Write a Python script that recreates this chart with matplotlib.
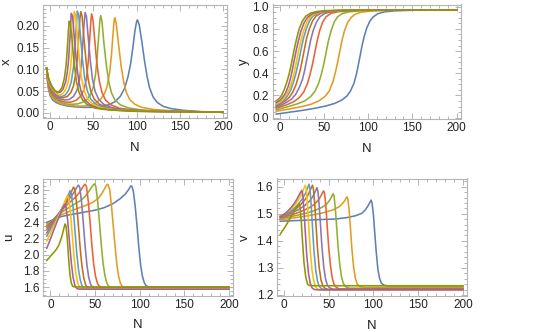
import matplotlib
matplotlib.use("Agg")
import matplotlib.pyplot as plt
from matplotlib.ticker import MultipleLocator, FormatStrFormatter

plt.rcParams['font.family'] = ['Liberation Sans', 'DejaVu Sans']

series_names = ["s1", "s2", "s3", "s4", "s5", "s6", "s7", "s8", "s9", "s10"]
colors = ['#5E81B5', '#E19C24', '#8FB032', '#EB6235', '#8778B3',
          '#C56E1A', '#5D9EC7', '#FFBF00', '#A5609D', '#929600']

x_ticks = [0, 50, 100, 150, 200]

# panel x : (N, x) points per series
x_curves = [
    [(-4,0.103),(-3,0.075),(-2,0.057),(0,0.040),(3,0.030),(7,0.024),(12,0.020),(20,0.016),(30,0.014),(40,0.013),(50,0.013),(60,0.015),(68,0.019),(75,0.026),(81,0.038),(86,0.056),(90,0.083),(93,0.112),(96,0.155),(98,0.188),(100,0.210),(101,0.214),(103,0.203),(106,0.165),(109,0.122),(112,0.085),(115,0.058),(119,0.037),(124,0.024),(131,0.015),(140,0.010),(155,0.006),(175,0.003),(200,0.002)],
    [(-4,0.103),(-3,0.077),(-2,0.060),(0,0.044),(3,0.034),(7,0.027),(12,0.022),(20,0.018),(30,0.016),(38,0.016),(46,0.018),(53,0.023),(59,0.033),(63,0.045),(66,0.062),(69,0.095),(71,0.135),(72.5,0.175),(74,0.213),(75,0.219),(76.5,0.205),(79,0.160),(82,0.110),(85,0.072),(88,0.048),(92,0.031),(98,0.020),(106,0.013),(120,0.008),(140,0.005),(170,0.003),(200,0.002)],
    [(-4,0.103),(-3,0.079),(-2,0.063),(0,0.048),(3,0.038),(7,0.030),(12,0.025),(18,0.021),(25,0.020),(32,0.021),(38,0.025),(43,0.032),(47,0.043),(50,0.060),(52.5,0.088),(54.5,0.130),(56,0.172),(57.5,0.212),(58.5,0.224),(60,0.210),(62,0.165),(65,0.110),(68,0.070),(71,0.046),(75,0.030),(81,0.019),(90,0.012),(105,0.007),(130,0.004),(165,0.003),(200,0.002)],
    [(-4,0.103),(-3,0.081),(-2,0.066),(0,0.052),(3,0.042),(7,0.034),(12,0.028),(18,0.025),(24,0.025),(30,0.029),(35,0.038),(39,0.053),(42,0.078),(44,0.115),(45.5,0.160),(47,0.208),(48,0.228),(49.5,0.215),(51.5,0.170),(54,0.115),(57,0.072),(60,0.047),(64,0.030),(70,0.019),(80,0.011),(95,0.007),(120,0.004),(160,0.003),(200,0.002)],
    [(-4,0.103),(-3,0.083),(-2,0.069),(0,0.056),(3,0.046),(7,0.037),(12,0.032),(17,0.030),(22,0.031),(27,0.038),(31,0.052),(34,0.077),(36,0.110),(37.5,0.150),(39,0.198),(40.5,0.231),(42,0.222),(44,0.175),(46.5,0.120),(49,0.078),(52,0.050),(56,0.032),(62,0.020),(72,0.012),(90,0.007),(120,0.004),(160,0.003),(200,0.002)],
    [(-4,0.103),(-3,0.085),(-2,0.072),(0,0.059),(3,0.049),(7,0.041),(11,0.036),(15,0.035),(20,0.038),(24,0.047),(27,0.062),(29.5,0.088),(31.5,0.125),(33,0.170),(34.5,0.218),(35.5,0.233),(37,0.222),(39,0.175),(41.5,0.120),(44,0.078),(47,0.050),(51,0.032),(57,0.020),(67,0.012),(85,0.007),(115,0.004),(160,0.003),(200,0.002)],
    [(-4,0.103),(-3,0.087),(-2,0.074),(0,0.062),(3,0.052),(6,0.045),(10,0.039),(14,0.038),(18,0.042),(21.5,0.053),(24.5,0.072),(27,0.105),(28.5,0.140),(30,0.190),(31.5,0.234),(33,0.225),(35,0.180),(37.5,0.122),(40,0.080),(43,0.051),(47,0.032),(53,0.020),(63,0.012),(80,0.007),(110,0.004),(160,0.003),(200,0.002)],
    [(-4,0.103),(-3,0.089),(-2,0.077),(0,0.065),(3,0.055),(6,0.048),(9,0.043),(12,0.042),(15,0.045),(18,0.054),(21,0.072),(23.5,0.100),(25,0.135),(26.5,0.185),(28,0.233),(29.5,0.225),(31.5,0.180),(34,0.120),(36.5,0.078),(39.5,0.050),(43.5,0.032),(49,0.020),(59,0.012),(75,0.007),(105,0.004),(150,0.003),(200,0.002)],
    [(-4,0.103),(-3,0.091),(-2,0.080),(0,0.068),(3,0.058),(6,0.051),(9,0.047),(12,0.048),(15,0.055),(18,0.072),(20,0.095),(21.5,0.125),(23,0.175),(24.5,0.229),(26,0.222),(28,0.175),(30.5,0.115),(33,0.075),(36,0.048),(40,0.031),(46,0.019),(56,0.011),(72,0.007),(100,0.004),(150,0.003),(200,0.002)],
    [(-4,0.103),(-3,0.093),(-2,0.083),(0,0.071),(2,0.062),(5,0.052),(8,0.048),(11,0.050),(14,0.060),(16.5,0.080),(18.5,0.110),(20,0.150),(21,0.185),(22,0.211),(23.5,0.205),(25.5,0.165),(28,0.110),(30.5,0.072),(33.5,0.047),(37.5,0.030),(43,0.019),(52,0.011),(68,0.007),(95,0.004),(140,0.003),(200,0.002)],
]

# panel y
y_curves = [
    [(-4,0.032),(10,0.048),(25,0.065),(40,0.085),(52,0.105),(62,0.128),(70,0.158),(76,0.195),(80,0.240),(84,0.310),(87,0.400),(89,0.480),(91,0.560),(93,0.645),(95.5,0.730),(98.5,0.810),(102,0.870),(106,0.910),(111,0.937),(118,0.953),(130,0.963),(150,0.968),(200,0.970)],
    [(-4,0.058),(5,0.070),(15,0.085),(25,0.100),(35,0.120),(44,0.150),(51,0.190),(56,0.240),(60,0.320),(63,0.410),(65.5,0.500),(68,0.600),(70.5,0.700),(73.5,0.790),(77,0.860),(81,0.905),(86,0.935),(93,0.952),(105,0.962),(125,0.968),(200,0.970)],
    [(-4,0.072),(3,0.085),(12,0.105),(20,0.125),(28,0.150),(35,0.190),(40,0.240),(44,0.310),(47,0.390),(50,0.490),(52.5,0.590),(55,0.690),(58,0.780),(61.5,0.860),(65.5,0.910),(71,0.940),(79,0.955),(92,0.964),(115,0.968),(200,0.970)],
    [(-4,0.085),(2,0.100),(9,0.120),(16,0.145),(22,0.180),(27,0.230),(31,0.300),(34,0.380),(37,0.480),(39.5,0.580),(42,0.680),(45,0.780),(48.5,0.860),(52.5,0.910),(58,0.940),(66,0.955),(80,0.965),(105,0.969),(200,0.970)],
    [(-4,0.097),(1,0.110),(7,0.135),(13,0.165),(18,0.210),(22,0.270),(25.5,0.340),(28,0.420),(30,0.500),(32.5,0.600),(35,0.700),(38,0.790),(41.5,0.860),(45.5,0.910),(51,0.940),(59,0.955),(72,0.965),(100,0.969),(200,0.970)],
    [(-4,0.107),(1,0.125),(6,0.150),(11,0.185),(15,0.235),(18.5,0.300),(21.5,0.380),(23.5,0.440),(25.5,0.520),(28,0.620),(30.5,0.720),(33.5,0.800),(37,0.870),(41,0.915),(46.5,0.942),(54,0.956),(67,0.965),(95,0.969),(200,0.970)],
    [(-4,0.117),(0,0.130),(5,0.160),(9,0.200),(12.5,0.250),(15.5,0.320),(18,0.390),(20,0.460),(22,0.530),(24.5,0.630),(27,0.720),(30,0.800),(33.5,0.870),(37.5,0.915),(43,0.942),(50,0.956),(63,0.965),(90,0.969),(200,0.970)],
    [(-4,0.125),(0,0.140),(4,0.170),(8,0.210),(11,0.260),(14,0.330),(16.5,0.410),(18.5,0.490),(21,0.590),(23.5,0.680),(26.5,0.770),(30,0.850),(34,0.905),(39.5,0.937),(46,0.953),(58,0.964),(85,0.969),(200,0.970)],
    [(-4,0.135),(0,0.155),(3,0.180),(6.5,0.220),(9.5,0.280),(12,0.350),(14,0.420),(16,0.500),(18.5,0.600),(21,0.690),(24,0.780),(27.5,0.855),(31.5,0.905),(37,0.937),(44,0.953),(55,0.963),(80,0.969),(200,0.970)],
    [(-4,0.152),(-1,0.170),(2,0.200),(5,0.250),(8,0.320),(10.5,0.390),(12.5,0.460),(14.5,0.540),(16.5,0.620),(19,0.710),(22,0.800),(25.5,0.870),(29.5,0.915),(35,0.943),(42,0.957),(53,0.965),(75,0.969),(200,0.970)],
]

# panel u
u_curves = [
    [(-4,2.40),(5,2.44),(12,2.47),(20,2.49),(30,2.51),(40,2.53),(50,2.55),(60,2.58),(70,2.63),(78,2.69),(84,2.75),(88,2.81),(90,2.85),(91.5,2.84),(93,2.78),(95,2.60),(97,2.36),(99,2.10),(101,1.88),(103,1.74),(105,1.66),(107,1.62),(110,1.603),(115,1.600),(200,1.600)],
    [(-4,2.38),(0,2.40),(6,2.44),(12,2.49),(20,2.53),(30,2.57),(40,2.61),(48,2.65),(54,2.70),(58,2.76),(61,2.82),(63,2.86),(64.5,2.87),(66.5,2.80),(68.5,2.60),(70.5,2.35),(72.5,2.10),(74.5,1.88),(76.5,1.73),(78.5,1.645),(80.5,1.61),(83,1.600),(88,1.598),(200,1.598)],
    [(-4,2.36),(0,2.40),(5,2.45),(10,2.50),(16,2.55),(22,2.59),(28,2.63),(34,2.67),(39,2.72),(43,2.78),(46,2.83),(48,2.86),(49.5,2.875),(51,2.84),(53,2.66),(55,2.40),(57,2.13),(59,1.90),(61,1.75),(63,1.66),(65,1.615),(67,1.600),(71,1.595),(200,1.595)],
    [(-4,2.34),(0,2.39),(4,2.44),(8,2.49),(13,2.55),(18,2.61),(23,2.66),(28,2.71),(32,2.76),(35,2.81),(37.5,2.855),(39,2.87),(40.5,2.84),(42.5,2.66),(44.5,2.40),(46.5,2.12),(48.5,1.89),(50.5,1.74),(52.5,1.655),(54.5,1.615),(57,1.597),(61,1.592),(200,1.592)],
    [(-4,2.31),(0,2.37),(4,2.43),(8,2.49),(12,2.55),(16,2.61),(20,2.67),(24,2.73),(27,2.78),(29.5,2.83),(31.5,2.86),(33,2.83),(35,2.65),(37,2.38),(39,2.10),(41,1.87),(43,1.72),(45,1.64),(47,1.600),(49.5,1.590),(53,1.588),(200,1.588)],
    [(-4,2.27),(0,2.34),(4,2.41),(8,2.48),(12,2.55),(16,2.62),(19.5,2.69),(22.5,2.75),(24.5,2.80),(26,2.835),(27.5,2.80),(29.5,2.62),(31.5,2.35),(33.5,2.07),(35.5,1.85),(37.5,1.71),(39.5,1.63),(41.5,1.595),(44,1.586),(48,1.585),(200,1.585)],
    [(-4,2.23),(0,2.31),(4,2.39),(8,2.47),(12,2.55),(15.5,2.63),(18.5,2.70),(20.5,2.75),(22,2.79),(23.5,2.76),(25.5,2.58),(27.5,2.31),(29.5,2.03),(31.5,1.82),(33.5,1.69),(35.5,1.615),(37.5,1.588),(40,1.582),(200,1.582)],
    [(-4,2.17),(0,2.26),(4,2.36),(8,2.45),(12,2.54),(15,2.62),(17.5,2.69),(19,2.73),(20.5,2.70),(22.5,2.52),(24.5,2.25),(26.5,1.98),(28.5,1.78),(30.5,1.66),(32.5,1.600),(34.5,1.582),(37,1.578),(200,1.578)],
    [(-4,2.08),(0,2.19),(4,2.31),(8,2.42),(11,2.50),(13.5,2.57),(16,2.62),(17.5,2.59),(19.5,2.42),(21.5,2.15),(23.5,1.90),(25.5,1.72),(27.5,1.62),(29.5,1.585),(32,1.576),(35,1.575),(200,1.575)],
    [(-4,1.93),(0,1.98),(4,2.03),(7,2.07),(10,2.13),(13,2.23),(15,2.32),(16.5,2.38),(17.5,2.36),(19,2.20),(20.5,1.95),(22,1.75),(23.5,1.65),(25,1.610),(27,1.604),(30,1.603),(200,1.603)],
]

# panel v
v_curves = [
    [(-4,1.473),(20,1.476),(40,1.479),(58,1.481),(70,1.486),(80,1.493),(87,1.502),(91,1.515),(94,1.530),(96,1.542),(97.5,1.551),(98.5,1.540),(100,1.497),(101.5,1.430),(103,1.365),(105,1.295),(107,1.260),(109,1.243),(112,1.236),(116,1.233),(200,1.233)],
    [(-4,1.478),(5,1.482),(15,1.487),(25,1.492),(35,1.498),(45,1.505),(55,1.515),(62,1.527),(66,1.540),(68.5,1.552),(70.5,1.563),(71.5,1.555),(73,1.510),(74.5,1.440),(76,1.370),(78,1.300),(80,1.260),(82,1.240),(85,1.231),(90,1.228),(200,1.228)],
    [(-4,1.482),(5,1.488),(15,1.495),(25,1.503),(35,1.513),(43,1.525),(48,1.537),(51.5,1.552),(53.5,1.565),(55,1.575),(56,1.567),(57.5,1.520),(59,1.450),(60.5,1.380),(62.5,1.310),(64.5,1.265),(66.5,1.242),(69,1.230),(73,1.225),(200,1.225)],
    [(-4,1.485),(4,1.492),(12,1.500),(20,1.510),(28,1.522),(34,1.535),(38.5,1.551),(41.5,1.567),(43.5,1.580),(44.5,1.585),(45.5,1.575),(47,1.525),(48.5,1.450),(50,1.380),(52,1.310),(54,1.263),(56,1.240),(58.5,1.228),(62,1.222),(200,1.222)],
    [(-4,1.488),(3,1.495),(10,1.505),(17,1.517),(23,1.530),(28,1.545),(32,1.562),(35,1.582),(37,1.597),(38,1.585),(39.5,1.530),(41,1.455),(42.5,1.380),(44.5,1.305),(46.5,1.260),(48.5,1.237),(51,1.226),(55,1.221),(200,1.221)],
    [(-4,1.490),(2,1.498),(8,1.508),(14,1.520),(19,1.535),(23.5,1.552),(27,1.570),(30,1.592),(32,1.606),(33,1.593),(34.5,1.535),(36,1.455),(37.5,1.375),(39.5,1.300),(41.5,1.255),(43.5,1.234),(46,1.224),(50,1.220),(200,1.220)],
    [(-4,1.492),(2,1.500),(7,1.510),(12,1.522),(16.5,1.537),(20.5,1.555),(24,1.575),(26.5,1.595),(28,1.610),(29,1.597),(30.5,1.535),(32,1.450),(33.5,1.370),(35.5,1.295),(37.5,1.252),(39.5,1.232),(42,1.223),(46,1.219),(200,1.219)],
    [(-4,1.493),(1,1.500),(6,1.512),(10,1.525),(14,1.540),(17.5,1.558),(20.5,1.578),(22.5,1.595),(24,1.606),(25,1.593),(26.5,1.530),(28,1.445),(29.5,1.365),(31.5,1.290),(33.5,1.250),(35.5,1.230),(38,1.221),(42,1.218),(200,1.218)],
    [(-4,1.490),(1,1.500),(5,1.512),(9,1.527),(12.5,1.543),(15.5,1.560),(18,1.576),(20,1.587),(21,1.575),(22.5,1.510),(24,1.430),(25.5,1.350),(27.5,1.280),(29.5,1.243),(31.5,1.226),(34,1.220),(38,1.219),(200,1.219)],
    [(-4,1.425),(-1,1.440),(2,1.455),(5,1.472),(8,1.490),(11,1.507),(13.5,1.520),(15.5,1.532),(17,1.538),(18,1.527),(19.5,1.470),(21,1.390),(22.5,1.320),(24.5,1.265),(26.5,1.240),(28.5,1.235),(32,1.234),(200,1.234)],
]

W, H = 545, 332
fig = plt.figure(figsize=(W / 100, H / 100), dpi=100)

def box(l, t, r, b):
    return [l / W, 1 - b / H, (r - l) / W, (b - t) / H]

panels = [
    dict(rect=box(43, 4.5, 227, 118), data=x_curves, label="x",
         ylim=(-0.0115, 0.2494), major=0.05, minor=0.01, fmt="%.2f", lab_x=7),
    dict(rect=box(272.5, 4.5, 460.5, 119), data=y_curves, label="y",
         ylim=(-0.012, 1.02), major=0.2, minor=0.05, fmt="%.1f", lab_x=244),
    dict(rect=box(43, 179, 233, 295.5), data=u_curves, label="u",
         ylim=(1.497, 2.935), major=0.2, minor=0.05, fmt="%.1f", lab_x=9),
    dict(rect=box(276.5, 178.5, 467, 296), data=v_curves, label="v",
         ylim=(1.196, 1.631), major=0.1, minor=0.02, fmt="%.1f", lab_x=245),
]

frame_col = '#b4b4b4'
for p in panels:
    ax = fig.add_axes(p["rect"])
    for curve, col in zip(p["data"], colors):
        n = [c[0] for c in curve]
        v = [c[1] for c in curve]
        ax.plot(n, v, color=col, lw=1.15, solid_joinstyle='round')
    ax.set_xlim(-8.2, 204.5)
    ax.set_ylim(*p["ylim"])
    ax.set_xticks(x_ticks)
    ax.xaxis.set_minor_locator(MultipleLocator(10))
    ax.yaxis.set_major_locator(MultipleLocator(p["major"]))
    ax.yaxis.set_minor_locator(MultipleLocator(p["minor"]))
    ax.yaxis.set_major_formatter(FormatStrFormatter(p["fmt"]))
    for s in ax.spines.values():
        s.set_color(frame_col)
        s.set_linewidth(0.8)
    ax.tick_params(which='both', direction='in', top=True, right=True,
                   color=frame_col, labelsize=8.5, labelcolor='#222222', width=0.7)
    ax.tick_params(which='major', length=4, pad=2.5)
    ax.tick_params(which='minor', length=2)
    ax.set_xlabel("N", fontsize=9.5, color='#222222', labelpad=6)
    ax.set_ylabel(p["label"], fontsize=9.5, color='#222222',
                  ha='center', va='center')
    bb = p["rect"]
    ax.yaxis.set_label_coords((p["lab_x"] / W - bb[0]) / bb[2], 0.5)

fig.savefig("out.png", dpi=100)
